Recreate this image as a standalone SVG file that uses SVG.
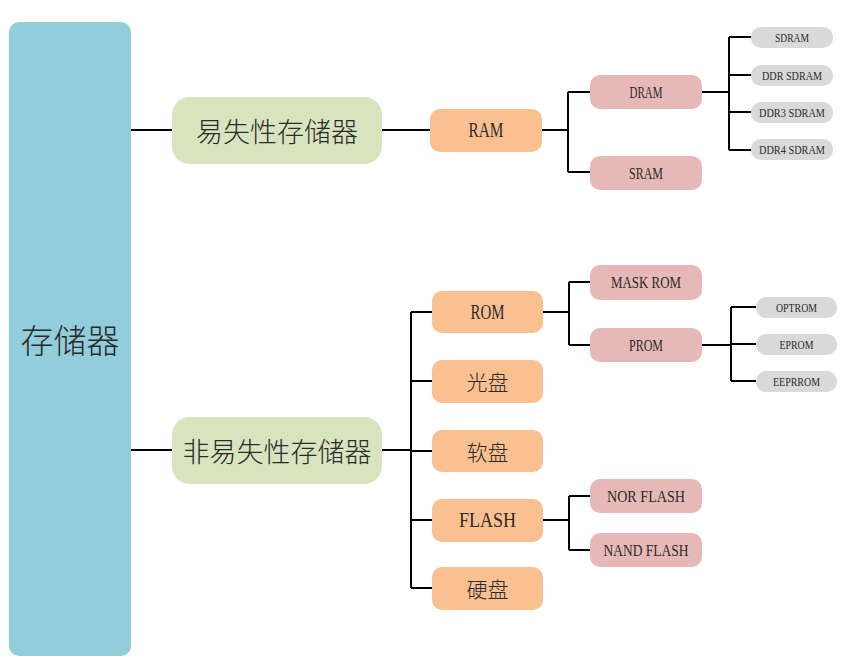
<svg xmlns="http://www.w3.org/2000/svg" width="843" height="663" viewBox="0 0 843 663">
<style>
text{font-family:"Liberation Serif","Noto Sans CJK SC",serif;fill:#2b2b2b;text-anchor:middle;dominant-baseline:central}
.zh{font-family:"Noto Sans CJK SC","Liberation Serif",sans-serif;font-weight:300}
.blue{fill:#92CDDC}
.green{fill:#D7E4BD}
.orange{fill:#FAC090}
.pink{fill:#E6B9B8}
.gray{fill:#D9D9D9}
.l1{font-size:20px}
.l2{font-size:17px}
.l3{font-size:13px}
#connectors path{fill:none;stroke:#000;stroke-width:2}
</style>
<rect width="843" height="663" fill="#fff"/>
<g id="connectors">
<path d="M131 130H172M382 130H430"/>
<path d="M542 130H568M568 92V172M568 92H590M568 172H590"/>
<path d="M702 92H729M729 37V150M729 37H752M729 75H752M729 112H752M729 150H752"/>
<path d="M131 450H172M382 450H411M411 312V588M411 312H432M411 381H432M411 451H432M411 520H432M411 588H432"/>
<path d="M543 312H569M569 282V345M569 282H590M569 345H590"/>
<path d="M702 345H731M731 307V381M731 307H756M731 344H756M731 381H756"/>
<path d="M543 520H569M569 496V550M569 496H590M569 550H590"/>
</g>
<g id="n-root"><rect class="blue" x="9" y="22" width="122" height="634" rx="10"/><text class="zh" x="70" y="339" font-size="33">存储器</text></g>
<g id="n-volatile"><rect class="green" x="172" y="97" width="210" height="67" rx="18"/><text class="zh" x="277" y="130" font-size="27">易失性存储器</text></g>
<g id="n-nonvolatile"><rect class="green" x="172" y="417" width="210" height="67" rx="18"/><text class="zh" x="277" y="450" font-size="27">非易失性存储器</text></g>
<g id="n-ram"><rect class="orange" x="430" y="109" width="112" height="43" rx="10"/><text class="l1" x="486" y="130" textLength="35" lengthAdjust="spacingAndGlyphs">RAM</text></g>
<g id="n-dram"><rect class="pink" x="590" y="75" width="112" height="34" rx="10"/><text class="l2" x="646" y="92" textLength="33" lengthAdjust="spacingAndGlyphs">DRAM</text></g>
<g id="n-sram"><rect class="pink" x="590" y="156" width="112" height="34" rx="10"/><text class="l2" x="646" y="173" textLength="34" lengthAdjust="spacingAndGlyphs">SRAM</text></g>
<g id="n-sdram"><rect class="gray" x="751" y="27" width="82" height="21" rx="10"/><text class="l3" x="792" y="37.5" textLength="34" lengthAdjust="spacingAndGlyphs">SDRAM</text></g>
<g id="n-ddr"><rect class="gray" x="751" y="65" width="82" height="21" rx="10"/><text class="l3" x="792" y="75.5" textLength="60" lengthAdjust="spacingAndGlyphs">DDR SDRAM</text></g>
<g id="n-ddr3"><rect class="gray" x="751" y="102" width="82" height="21" rx="10"/><text class="l3" x="792" y="112.5" textLength="66" lengthAdjust="spacingAndGlyphs">DDR3 SDRAM</text></g>
<g id="n-ddr4"><rect class="gray" x="751" y="139" width="82" height="21" rx="10"/><text class="l3" x="792" y="149.5" textLength="66" lengthAdjust="spacingAndGlyphs">DDR4 SDRAM</text></g>
<g id="n-rom"><rect class="orange" x="432" y="291" width="111" height="42" rx="10"/><text class="l1" x="487.5" y="312" textLength="34" lengthAdjust="spacingAndGlyphs">ROM</text></g>
<g id="n-cd"><rect class="orange" x="432" y="360" width="111" height="43" rx="10"/><text class="zh" x="487.5" y="381" font-size="21">光盘</text></g>
<g id="n-floppy"><rect class="orange" x="432" y="430" width="111" height="42" rx="10"/><text class="zh" x="487.5" y="451" font-size="21">软盘</text></g>
<g id="n-flash"><rect class="orange" x="432" y="499" width="111" height="43" rx="10"/><text class="l1" x="487.5" y="520" textLength="57" lengthAdjust="spacingAndGlyphs">FLASH</text></g>
<g id="n-hdd"><rect class="orange" x="432" y="567" width="111" height="43" rx="10"/><text class="zh" x="487.5" y="588" font-size="21">硬盘</text></g>
<g id="n-maskrom"><rect class="pink" x="590" y="265" width="112" height="35" rx="10"/><text class="l2" x="646" y="282.5" textLength="70" lengthAdjust="spacingAndGlyphs">MASK ROM</text></g>
<g id="n-prom"><rect class="pink" x="590" y="328" width="112" height="34" rx="10"/><text class="l2" x="646" y="345" textLength="34" lengthAdjust="spacingAndGlyphs">PROM</text></g>
<g id="n-optrom"><rect class="gray" x="756" y="297" width="81" height="21" rx="10"/><text class="l3" x="796.5" y="307.5" textLength="41" lengthAdjust="spacingAndGlyphs">OPTROM</text></g>
<g id="n-eprom"><rect class="gray" x="756" y="334" width="81" height="21" rx="10"/><text class="l3" x="796.5" y="344.5" textLength="34" lengthAdjust="spacingAndGlyphs">EPROM</text></g>
<g id="n-eeprrom"><rect class="gray" x="756" y="371" width="81" height="21" rx="10"/><text class="l3" x="796.5" y="381.5" textLength="47" lengthAdjust="spacingAndGlyphs">EEPRROM</text></g>
<g id="n-norflash"><rect class="pink" x="590" y="479" width="112" height="34" rx="10"/><text class="l2" x="646" y="496" textLength="78" lengthAdjust="spacingAndGlyphs">NOR FLASH</text></g>
<g id="n-nandflash"><rect class="pink" x="590" y="533" width="112" height="34" rx="10"/><text class="l2" x="646" y="550" textLength="85" lengthAdjust="spacingAndGlyphs">NAND FLASH</text></g>
</svg>
